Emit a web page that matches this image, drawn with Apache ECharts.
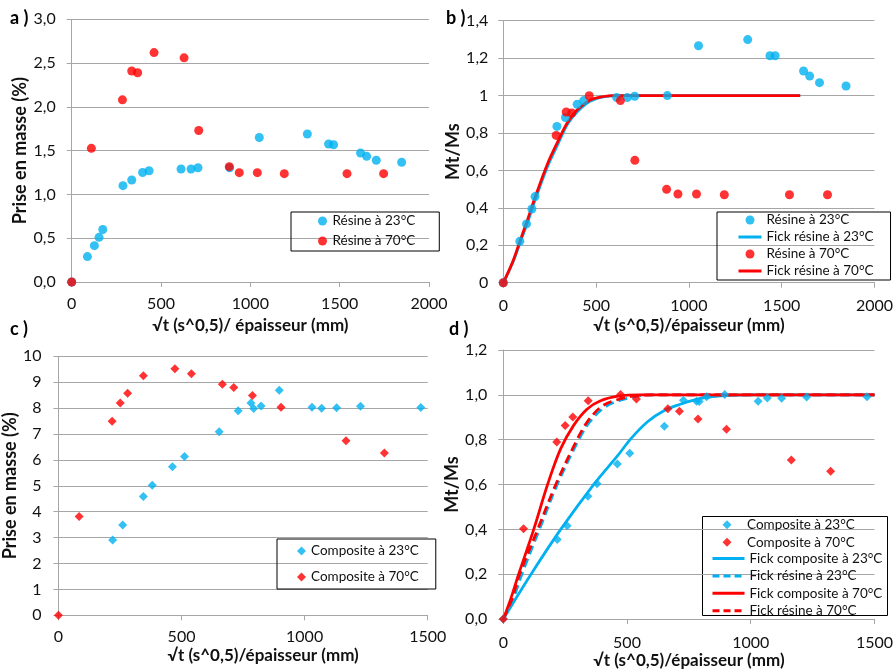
<!DOCTYPE html>
<html><head><meta charset="utf-8">
<script src="https://cdn.jsdelivr.net/npm/echarts/dist/echarts.min.js"></script>
<style>html,body{margin:0;padding:0;background:#fff}#c{width:896px;height:670px}</style>
</head><body><div id="c"></div>
<script>
// ---------- Data ----------
// Panel a: Prise en masse (%) - résine
const aResine23 = [[0,0],[88,0.29],[127,0.415],[153,0.51],[174,0.60],[287,1.10],[336,1.165],[397,1.25],[433,1.27],[612,1.29],[668,1.29],[707,1.305],[884,1.305],[1050,1.65],[1319,1.69],[1438,1.576],[1466,1.568],[1617,1.473],[1651,1.435],[1705,1.39],[1847,1.367]];
const aResine70 = [[0,0],[110,1.526],[284,2.08],[336,2.41],[369,2.39],[461,2.62],[629,2.56],[711,1.73],[882,1.317],[938,1.249],[1039,1.249],[1190,1.237],[1541,1.237],[1746,1.237]];
// Panel b: Mt/Ms - résine
const bResine23 = [[0,0],[89,0.221],[125,0.314],[154,0.394],[171,0.46],[289,0.835],[335,0.883],[398,0.953],[433,0.973],[611,0.989],[668,0.989],[708,0.996],[884,1.0],[1052,1.266],[1317,1.299],[1437,1.213],[1465,1.213],[1618,1.131],[1651,1.104],[1704,1.069],[1847,1.051]];
const bResine70 = [[0,0],[285,0.787],[339,0.912],[369,0.907],[463,0.999],[631,0.973],[709,0.654],[880,0.499],[941,0.474],[1041,0.474],[1191,0.47],[1542,0.47],[1747,0.47]];
const bFick23 = [[0,0],[50,0.105],[89,0.21],[130,0.32],[178,0.46],[240,0.625],[294,0.74],[348,0.85],[400,0.915],[470,0.97],[540,0.993],[620,1],[800,1],[1000,1],[1200,1],[1400,1],[1600,1]];
const bFick70 = [[0,0],[50,0.11],[89,0.22],[130,0.335],[178,0.475],[240,0.64],[294,0.755],[348,0.86],[400,0.925],[470,0.977],[540,0.995],[600,1],[800,1],[1000,1],[1200,1],[1400,1],[1600,1]];
// Panel c: Prise en masse (%) - composite
const cComp23 = [[220,2.91],[261,3.49],[345,4.59],[381,5.02],[463,5.74],[512,6.13],[653,7.09],[730,7.90],[782,8.20],[793,7.98],[823,8.08],[897,8.69],[1030,8.03],[1069,7.99],[1130,8.01],[1227,8.07],[1472,8.02]];
const cComp70 = [[0,0],[84,3.81],[218,7.49],[251,8.20],[281,8.57],[345,9.25],[473,9.52],[540,9.33],[666,8.92],[712,8.80],[788,8.49],[904,8.03],[1168,6.74],[1324,6.27]];
// Panel d: Mt/Ms - composite
const dComp23 = [[0,0],[218,0.355],[258,0.416],[342,0.548],[379,0.604],[461,0.692],[511,0.74],[651,0.86],[728,0.976],[781,0.971],[792,0.97],[822,0.992],[895,1.002],[1030,0.971],[1067,0.986],[1125,0.985],[1226,0.99],[1470,0.992]];
const dComp70 = [[0,0],[82,0.403],[216,0.79],[250,0.863],[281,0.901],[343,0.974],[474,1.002],[538,0.982],[665,0.938],[712,0.927],[787,0.892],[902,0.847],[1164,0.709],[1323,0.659]];
const dFickComp23 = [[0,0],[112,0.2],[232,0.4],[365,0.6],[463,0.73],[516,0.805],[583,0.88],[649,0.929],[715,0.958],[781,0.98],[847,0.992],[913,0.998],[1000,1],[1250,1],[1500,1]];
const dFickRes23 = [[0,0],[40,0.09],[75,0.2],[146,0.4],[218,0.6],[305,0.8],[350,0.88],[410,0.945],[470,0.975],[550,0.995],[620,1],[800,1],[1000,1],[1250,1],[1500,1]];
const dFickComp70 = [[0,0],[30,0.09],[62,0.2],[123,0.4],[179,0.6],[232,0.76],[285,0.865],[338,0.936],[391,0.973],[470,0.995],[550,1],[800,1],[1000,1],[1250,1],[1500,1]];
const dFickRes70 = [[0,0],[35,0.09],[66,0.2],[139,0.4],[212,0.6],[298,0.8],[343,0.885],[400,0.95],[460,0.978],[536,0.996],[600,1],[800,1],[1000,1],[1250,1],[1500,1]];

// Tick labels
const yLabelsA = ['0,0','0,5','1,0','1,5','2,0','2,5','3,0'];
const yLabelsB = ['0','0,2','0,4','0,6','0,8','1','1,2','1,4'];
const yLabelsC = ['0','1','2','3','4','5','6','7','8','9','10'];
const yLabelsD = ['0,0','0,2','0,4','0,6','0,8','1,0','1,2'];
const xLabels2000 = ['0','500','1000','1500','2000'];
const xLabels1500 = ['0','500','1000','1500'];

const xTitleA = '√t (s^0,5)/ épaisseur (mm)';
const xTitle = '√t (s^0,5)/épaisseur (mm)';
const yTitleMass = 'Prise en masse (%)';
const yTitleRatio = 'Mt/Ms';

// ---------- Style ----------
const FONT = 'Lato';
const GRID = '#a6a6a6';
const BLUE = '#00b0f0';
const RED = '#ff0000';
const TXT = '#111';

function xAx(gi, max, labels, margin, name, gap, pad) {
  return {
    type: 'value', gridIndex: gi, min: 0, max: max, interval: 500,
    axisLine: {show: true, onZero: false, lineStyle: {color: GRID, width: 1}},
    axisTick: {show: true, length: 5, inside: false, lineStyle: {color: GRID}},
    splitLine: {show: false},
    axisLabel: {margin: margin, fontSize: 16, color: TXT, fontFamily: FONT, showMinLabel: true, showMaxLabel: true, hideOverlap: false,
      formatter: function (v) { return labels[Math.round(v / 500)]; }},
    name: name, nameLocation: 'middle', nameGap: gap,
    nameTextStyle: {fontSize: 17, fontWeight: 'bold', fontFamily: FONT, color: TXT, padding: pad || 0}
  };
}
function yAx(gi, max, interval, labels, margin, name, gap) {
  return {
    type: 'value', gridIndex: gi, min: 0, max: max, interval: interval,
    axisLine: {show: true, onZero: false, lineStyle: {color: GRID, width: 1}},
    axisTick: {show: true, length: 5, lineStyle: {color: GRID}},
    splitLine: {show: true, lineStyle: {color: GRID, width: 1}},
    axisLabel: {margin: margin, fontSize: 16, color: TXT, fontFamily: FONT, showMinLabel: true, showMaxLabel: true, hideOverlap: false,
      formatter: function (v) { return labels[Math.round(v / interval)]; }},
    name: name, nameLocation: 'middle', nameGap: gap, nameRotate: 90,
    nameTextStyle: {fontSize: 18, fontWeight: 'bold', fontFamily: FONT, color: TXT}
  };
}
function scat(name, gi, data, color, sym) {
  return {type: 'scatter', name: name, xAxisIndex: gi, yAxisIndex: gi, data: data,
    symbol: sym, symbolSize: 9, itemStyle: {color: color}, z: 3};
}
function line(name, gi, data, color, dashed) {
  return {type: 'line', name: name, xAxisIndex: gi, yAxisIndex: gi, data: data,
    symbol: 'none', smooth: 0.35, z: 2,
    lineStyle: {width: 2.75, color: color, type: dashed ? [9, 5] : 'solid'},
    itemStyle: {color: color}};
}
function lineItem(name, color, dashed) {
  return {name: name, itemStyle: {opacity: 0, borderWidth: 0},
    lineStyle: {width: 3, color: color, type: dashed ? [7, 4] : 'solid'}};
}
function leg(left, top, names, iw, gap, pad, border, textPadLeft) {
  return {orient: 'vertical', left: left, top: top, data: names, itemWidth: iw, itemHeight: 9,
    itemGap: gap, padding: pad, borderColor: '#000', borderWidth: border ? 1 : 0, selectedMode: false,
    symbolKeepAspect: true,
    textStyle: {fontSize: 13.5, fontFamily: FONT, color: TXT, padding: [0, 0, 0, textPadLeft || 0]}};
}

const chart = echarts.init(document.getElementById('c'));
chart.setOption({
  animation: false,
  backgroundColor: '#fff',
  grid: [
    {left: 71.7, top: 19.3, width: 357.3, height: 262.7},
    {left: 503.3, top: 20.7, width: 374, height: 262},
    {left: 57.7, top: 356.3, width: 370, height: 259},
    {left: 503.3, top: 350, width: 377.7, height: 273}
  ],
  xAxis: [
    xAx(0, 2000, xLabels2000, 14, xTitleA, 35),
    xAx(1, 2000, xLabels2000, 15, xTitle, 34),
    xAx(2, 1500, xLabels1500, 14, xTitle, 32, [0, 0, 0, 40]),
    xAx(3, 1500, xLabels1500, 16, xTitle, 28)
  ],
  yAxis: [
    yAx(0, 3, 0.5, yLabelsA, 16, yTitleMass, 43),
    yAx(1, 1.4, 0.2, yLabelsB, 15, yTitleRatio, 40),
    yAx(2, 10, 1, yLabelsC, 17, yTitleMass, 31),
    yAx(3, 1.2, 0.2, yLabelsD, 16, yTitleRatio, 40)
  ],
  legend: [
    leg(291, 212, ['Résine à 23°C', 'Résine à 70°C'], 10, 6, [2, 24, 3, 27], true),
    leg(717, 212, ['Résine à 23°C', lineItem('Fick résine à 23°C', BLUE, false), 'Résine à 70°C', lineItem('Fick résine à 70°C', RED, false)], 23, 3, [1, 17, 2, 20], true),
    leg(277, 539, ['Composite à 23°C', 'Composite à 70°C'], 9, 12, [5, 17, 5, 20], true),
    leg(722.5, 517.8, ['Composite à 23°C', 'Composite à 70°C'], 9, 3.4, 0, false, 10.5),
    leg(711, 551.5, [lineItem('Fick composite à 23°C', BLUE, false), lineItem('Fick résine à 23°C', BLUE, true), lineItem('Fick composite à 70°C', RED, false), lineItem('Fick résine à 70°C', RED, true)], 32, 3.4, 0, false)
  ],
  graphic: [
    {type: 'rect', shape: {x: 702.5, y: 516.5, width: 185, height: 99}, style: {fill: 'none', stroke: '#000', lineWidth: 1}},
    {type: 'text', left: 10, top: 9, style: {text: 'a )', fontSize: 18, fontWeight: 'bold', fontFamily: FONT, fill: '#000'}},
    {type: 'text', left: 446, top: 9, style: {text: 'b )', fontSize: 18, fontWeight: 'bold', fontFamily: FONT, fill: '#000'}},
    {type: 'text', left: 10, top: 320, style: {text: 'c )', fontSize: 18, fontWeight: 'bold', fontFamily: FONT, fill: '#000'}},
    {type: 'text', left: 449, top: 320, style: {text: 'd )', fontSize: 18, fontWeight: 'bold', fontFamily: FONT, fill: '#000'}}
  ],
  series: [
    scat('Résine à 23°C', 0, aResine23, BLUE, 'circle'),
    scat('Résine à 70°C', 0, aResine70, RED, 'circle'),
    scat('Résine à 23°C', 1, bResine23, BLUE, 'circle'),
    line('Fick résine à 23°C', 1, bFick23, BLUE, false),
    scat('Résine à 70°C', 1, bResine70, RED, 'circle'),
    line('Fick résine à 70°C', 1, bFick70, RED, false),
    scat('Composite à 23°C', 2, cComp23, BLUE, 'diamond'),
    scat('Composite à 70°C', 2, cComp70, RED, 'diamond'),
    scat('Composite à 23°C', 3, dComp23, BLUE, 'diamond'),
    scat('Composite à 70°C', 3, dComp70, RED, 'diamond'),
    line('Fick composite à 23°C', 3, dFickComp23, BLUE, false),
    line('Fick résine à 23°C', 3, dFickRes23, BLUE, true),
    line('Fick composite à 70°C', 3, dFickComp70, RED, false),
    line('Fick résine à 70°C', 3, dFickRes70, RED, true)
  ]
});
</script></body></html>
